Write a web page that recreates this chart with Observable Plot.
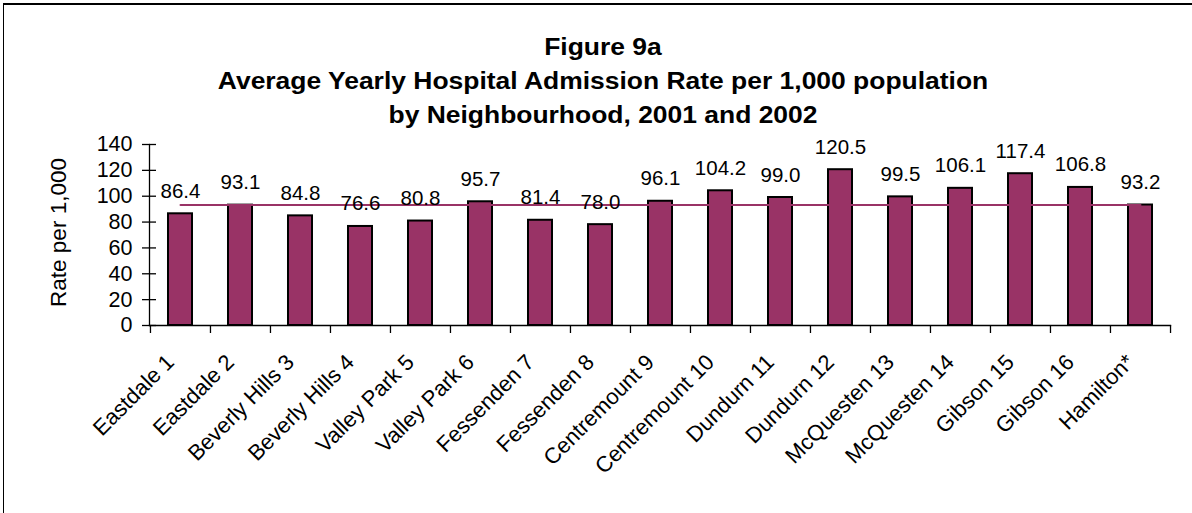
<!DOCTYPE html>
<html><head><meta charset="utf-8">
<script src="https://cdn.jsdelivr.net/npm/d3@7"></script>
<script src="https://cdn.jsdelivr.net/npm/@observablehq/plot@0.6"></script>
<style>
body{margin:0;background:#fff;}
#wrap{position:relative;width:1192px;height:513px;overflow:hidden;background:#fff;font-family:"Liberation Sans",Arial,sans-serif;color:#000;}
#border{position:absolute;left:3px;top:3px;width:1300px;height:600px;border-left:1.5px solid #000;border-top:2px solid #000;}
#title{position:absolute;left:103px;width:1000px;top:31px;text-align:center;font-weight:bold;font-size:23.5px;line-height:33.8px;transform:scaleX(1.125);}
#chart{position:absolute;left:0;top:135px;}
</style>
</head><body>
<div id="wrap">
  <div id="border"></div>
  <div id="title">Figure 9a<br>Average Yearly Hospital Admission Rate per 1,000 population<br>by Neighbourhood, 2001 and 2002</div>
  <div id="chart"></div>
</div>
<script>
const categories = ["Eastdale 1","Eastdale 2","Beverly Hills 3","Beverly Hills 4","Valley Park 5","Valley Park 6","Fessenden 7","Fessenden 8","Centremount 9","Centremount 10","Dundurn 11","Dundurn 12","McQuesten 13","McQuesten 14","Gibson 15","Gibson 16","Hamilton*"];
const rates = [86.4,93.1,84.8,76.6,80.8,95.7,81.4,78.0,96.1,104.2,99.0,120.5,99.5,106.1,117.4,106.8,93.2];
const hamiltonAverage = 93.2;
const yTicks = [0,20,40,60,80,100,120,140];
const yLabel = "Rate per 1,000";

const data = categories.map((c,i)=>({name:c, rate:rates[i]}));
const W = 1192, H = 378, mL = 149, mR = 22, mT = 9, mB = 188;
const step = (W - mL - mR) / categories.length;
const plum = "#993366";

const chart = Plot.plot({
  width: W, height: H,
  marginLeft: mL, marginRight: mR, marginTop: mT, marginBottom: mB,
  style: {fontFamily: "'Liberation Sans', Arial, sans-serif", fontSize: "21px", color: "#000", background: "transparent", overflow: "visible"},
  x: {domain: categories, paddingInner: 0.6, paddingOuter: 0.3, axis: null},
  y: {domain: [0, 140], axis: null},
  marks: [
    Plot.barY(data, {x: "name", y: "rate", fill: plum, stroke: "#000", strokeWidth: 2}),
    Plot.lineY(data, {x: "name", y: () => hamiltonAverage, stroke: plum, strokeWidth: 2}),
    Plot.text(data, {x: "name", y: "rate", text: d => d.rate.toFixed(1), lineAnchor: "bottom", dy: -16, fontSize: 20.5}),
    Plot.frame({anchor: "left", stroke: "#000", strokeWidth: 1.3}),
    Plot.frame({anchor: "bottom", stroke: "#000", strokeWidth: 1.3}),
    Plot.axisY({ticks: yTicks, tickSize: 14, dx: 7, fill: "none", stroke: "#000", strokeWidth: 1.3, label: null}),
    Plot.axisY({ticks: yTicks, tickSize: 0, tickPadding: 17, stroke: "none", fill: "#000", fontSize: 21.5, label: null}),
    Plot.axisX({ticks: categories, tickSize: 8, dx: -step / 2, fill: "none", stroke: "#000", strokeWidth: 1.3, label: null}),
    Plot.axisX({ticks: categories.slice(-1), tickSize: 8, dx: step / 2, fill: "none", stroke: "#000", strokeWidth: 1.3, label: null}),
    Plot.text(categories, {x: d => d, frameAnchor: "bottom", rotate: -45, textAnchor: "end", lineAnchor: "middle", dy: 33, dx: -10, fontSize: 22}),
    Plot.text([yLabel], {frameAnchor: "left", rotate: -90, textAnchor: "middle", lineAnchor: "bottom", dx: -84, dy: -2.5, text: d => d, fontSize: 22.5})
  ]
});
document.getElementById("chart").appendChild(chart);
</script>
</body></html>
